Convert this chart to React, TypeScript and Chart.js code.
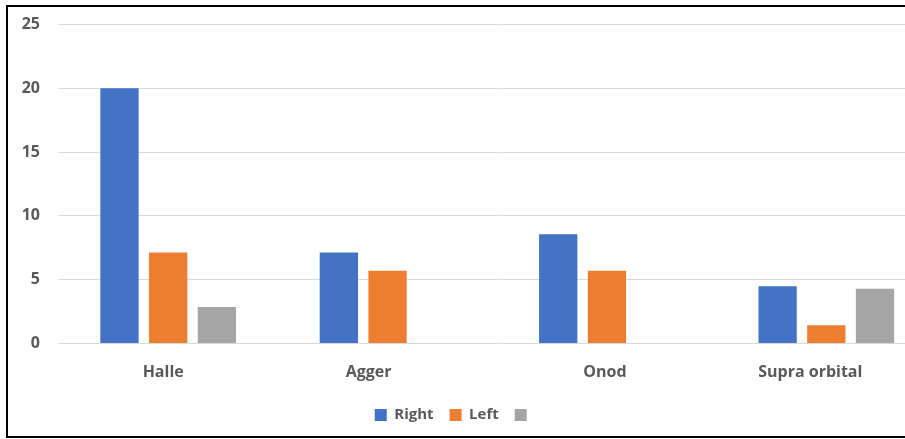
import React, { useEffect, useRef } from 'react';
import { Chart, registerables } from 'chart.js';

Chart.register(...registerables);

// ---- data ----
const categories = ['Halle', 'Agger', 'Onod', 'Supra orbital'];
const seriesNames = ['Right', 'Left', ''];
const rightValues = [20, 7.14, 8.57, 4.48];
const leftValues = [7.14, 5.71, 5.71, 1.43];
const thirdValues: (number | null)[] = [2.86, null, null, 4.29];
const yTicks = [0, 5, 10, 15, 20, 25];

// ---- styling ----
const FONT = "'Open Sans', 'Noto Sans', 'DejaVu Sans', sans-serif";
const TEXT = '#595959';
const GRID = '#D9D9D9';
const COLORS = ['#4472C4', '#ED7D31', '#A5A5A5'];
// per-caption horizontal nudges of the category names (px)
const captionNudge = [-5, -19, -2, -16];

const LEGEND_HEIGHT = 40;

// keeps the legend at a fixed height and places its row
const legendPlacement = {
  id: 'legendPlacement',
  beforeLayout(chart: any) {
    const lg = chart.legend;
    if (lg && !lg.__fixedFit) {
      const fit = lg.fit.bind(lg);
      lg.fit = function () {
        fit();
        this.height = LEGEND_HEIGHT;
      };
      lg.__fixedFit = true;
    }
  },
  afterLayout(chart: any) {
    const lg = chart.legend;
    if (!lg) return;
    lg.left -= 13.5;
    lg.right -= 13.5;
    lg.top = 391.5;
    lg.bottom = lg.top + LEGEND_HEIGHT;
  },
};

// category names under the bar groups
const categoryCaptions = {
  id: 'categoryCaptions',
  afterDraw(chart: any) {
    const x = chart.scales.x;
    const ctx = chart.ctx;
    ctx.save();
    ctx.font = `bold 16px ${FONT}`;
    ctx.fillStyle = TEXT;
    ctx.textAlign = 'center';
    ctx.textBaseline = 'alphabetic';
    categories.forEach((name, i) => {
      ctx.fillText(name, x.getPixelForTick(i) + captionNudge[i], x.top + 33);
    });
    ctx.restore();
  },
};

export default function App() {
  const ref = useRef<HTMLCanvasElement | null>(null);

  useEffect(() => {
    if (!ref.current) return;
    const chart = new Chart(ref.current, {
      type: 'bar',
      data: {
        labels: categories,
        datasets: [
          { label: seriesNames[0], data: rightValues, backgroundColor: COLORS[0], borderWidth: 0 },
          { label: seriesNames[1], data: leftValues, backgroundColor: COLORS[1], borderWidth: 0 },
          { label: seriesNames[2], data: thirdValues, backgroundColor: COLORS[2], borderWidth: 0 },
        ],
      },
      options: {
        responsive: false,
        animation: false,
        devicePixelRatio: 1,
        layout: { padding: { top: 24.5, left: 0, right: 0, bottom: 0 } },
        datasets: { bar: { categoryPercentage: 0.666, barPercentage: 0.786 } },
        scales: {
          x: {
            grid: { display: false },
            border: { display: false },
            ticks: { display: false },
            afterFit(s: any) {
              s.height = 55.5;
            },
          },
          y: {
            min: 0,
            max: 25,
            afterBuildTicks(s: any) {
              s.ticks = yTicks.map((v) => ({ value: v }));
            },
            ticks: {
              padding: 4,
              color: TEXT,
              font: { family: FONT, size: 16, weight: 'bold' },
            },
            grid: {
              color: GRID,
              lineWidth: 1,
              drawTicks: true,
              tickLength: 14.5,
              tickColor: 'rgba(0,0,0,0)',
            },
            border: { display: false },
            afterFit(s: any) {
              s.width = 58.5;
            },
          },
        },
        plugins: {
          legend: {
            position: 'bottom',
            labels: {
              boxWidth: 12,
              boxHeight: 12,
              padding: 16,
              color: TEXT,
              font: { family: FONT, size: 15, weight: 'bold' },
            },
          },
          tooltip: { enabled: false },
        },
      } as any,
      plugins: [legendPlacement, categoryCaptions],
    });
    return () => chart.destroy();
  }, []);

  return (
    <div
      style={{
        position: 'absolute',
        left: 0,
        top: 0,
        width: 905,
        height: 439,
        overflow: 'hidden',
        background: '#ffffff',
      }}
    >
      <canvas ref={ref} width={936} height={439} style={{ position: 'absolute', left: 0, top: 0 }} />
      <div
        style={{
          position: 'absolute',
          left: 6,
          top: 5,
          width: 899,
          height: 433,
          boxSizing: 'border-box',
          borderTop: '2px solid #000',
          borderLeft: '2px solid #000',
          borderBottom: '2px solid #000',
        }}
      />
    </div>
  );
}
